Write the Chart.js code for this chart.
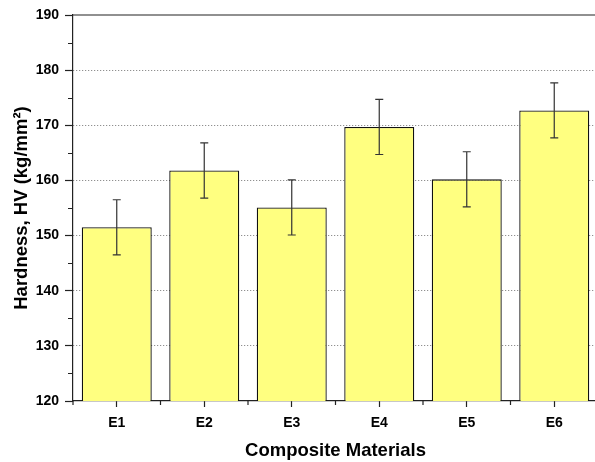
<!DOCTYPE html>
<html>
<head>
<meta charset="utf-8">
<script src="https://cdn.jsdelivr.net/npm/chart.js@4"></script>
<style>
  html, body { margin: 0; padding: 0; background: #fff; overflow: hidden; }
  #graph { display: block; }
</style>
</head>
<body>
<canvas id="graph" width="600" height="462"></canvas>
<script>
var materials = ["E1", "E2", "E3", "E4", "E5", "E6"];
var hardness = [151.5, 161.8, 155.1, 169.7, 160.2, 172.7];
var hardnessErr = [5, 5, 5, 5, 5, 5];
var yTicks = [120, 130, 140, 150, 160, 170, 180, 190];
var yMinorTicks = [125, 135, 145, 155, 165, 175, 185];

var fontFamily = "'Liberation Sans', Arial, sans-serif";

// error bars, top frame line and minor ticks
var extras = {
    id: 'extras',
    afterDatasetsDraw: function(chart) {
        var ctx = chart.ctx;
        var y = chart.scales.y;
        var meta = chart.getDatasetMeta(0);
        ctx.save();
        ctx.strokeStyle = '#333';
        ctx.lineWidth = 1.2;
        meta.data.forEach(function(bar, i) {
            var top = y.getPixelForValue(hardness[i] + hardnessErr[i]);
            var bot = y.getPixelForValue(hardness[i] - hardnessErr[i]);
            ctx.beginPath();
            ctx.moveTo(bar.x, top); ctx.lineTo(bar.x, bot);
            ctx.moveTo(bar.x - 4, top); ctx.lineTo(bar.x + 4, top);
            ctx.moveTo(bar.x - 4, bot); ctx.lineTo(bar.x + 4, bot);
            ctx.stroke();
        });
        ctx.restore();

        var area = chart.chartArea;
        ctx.save();
        ctx.strokeStyle = '#222';
        ctx.lineWidth = 1.2;
        ctx.beginPath();
        ctx.moveTo(area.left, area.top);
        ctx.lineTo(area.right + 5, area.top);
        yMinorTicks.forEach(function(v) {
            var py = Math.round(y.getPixelForValue(v)) + 0.5;
            ctx.moveTo(area.left, py); ctx.lineTo(area.left - 5, py);
        });
        for (var i = 0; i <= materials.length; i++) {
            var px = area.left + (area.right - area.left) * i / materials.length;
            ctx.moveTo(px, area.bottom); ctx.lineTo(px, area.bottom + 4);
        }
        ctx.stroke();
        ctx.restore();
    }
};

var ctx = document.getElementById("graph").getContext('2d');

var chart = new Chart(ctx, {
    type: 'bar',
    data: {
        labels: materials,
        datasets: [{
            label: 'Hardness',
            data: hardness,
            backgroundColor: '#FFFF80',
            borderColor: '#111',
            borderWidth: 1.3,
            categoryPercentage: 1.0,
            barPercentage: 0.8
        }]
    },
    options: {
        responsive: false,
        animation: false,
        layout: { padding: { top: 15, right: 2, left: 0, bottom: 0 } },
        plugins: {
            legend: { display: false },
            tooltip: { enabled: false }
        },
        scales: {
            x: {
                grid: {
                    offset: false,
                    drawOnChartArea: false,
                    tickLength: 6,
                    tickColor: '#222',
                    tickWidth: 1.2
                },
                border: { color: '#222', width: 1.2 },
                ticks: {
                    color: '#000',
                    padding: 8,
                    font: { family: fontFamily, size: 14, weight: 'bold' }
                },
                title: {
                    display: true,
                    text: 'Composite Materials',
                    color: '#000',
                    padding: { top: 0, bottom: 0 },
                    font: { family: fontFamily, size: 18.5, weight: 'bold' }
                },
                afterFit: function(scale) { scale.height = 61; }
            },
            y: {
                min: 120,
                max: 190,
                afterBuildTicks: function(scale) {
                    scale.ticks = yTicks.map(function(v) { return { value: v }; });
                },
                grid: {
                    color: function(c) {
                        var v = c.tick ? c.tick.value : null;
                        return (v === 120 || v === 190) ? 'rgba(0,0,0,0)' : '#777';
                    },
                    lineWidth: 1,
                    tickLength: 8,
                    tickColor: '#222',
                    tickWidth: 1.2,
                    tickBorderDash: []
                },
                border: { color: '#222', width: 1.2, dash: [1, 2] },
                ticks: {
                    color: '#000',
                    padding: 6,
                    font: { family: fontFamily, size: 14, weight: 'bold' }
                },
                title: {
                    display: true,
                    text: 'Hardness, HV (kg/mm²)',
                    color: '#000',
                    padding: { top: 11, bottom: 0 },
                    font: { family: fontFamily, size: 18.5, weight: 'bold' }
                },
                afterFit: function(scale) { scale.width = 73; }
            }
        }
    },
    plugins: [extras]
});
</script>
</body>
</html>
